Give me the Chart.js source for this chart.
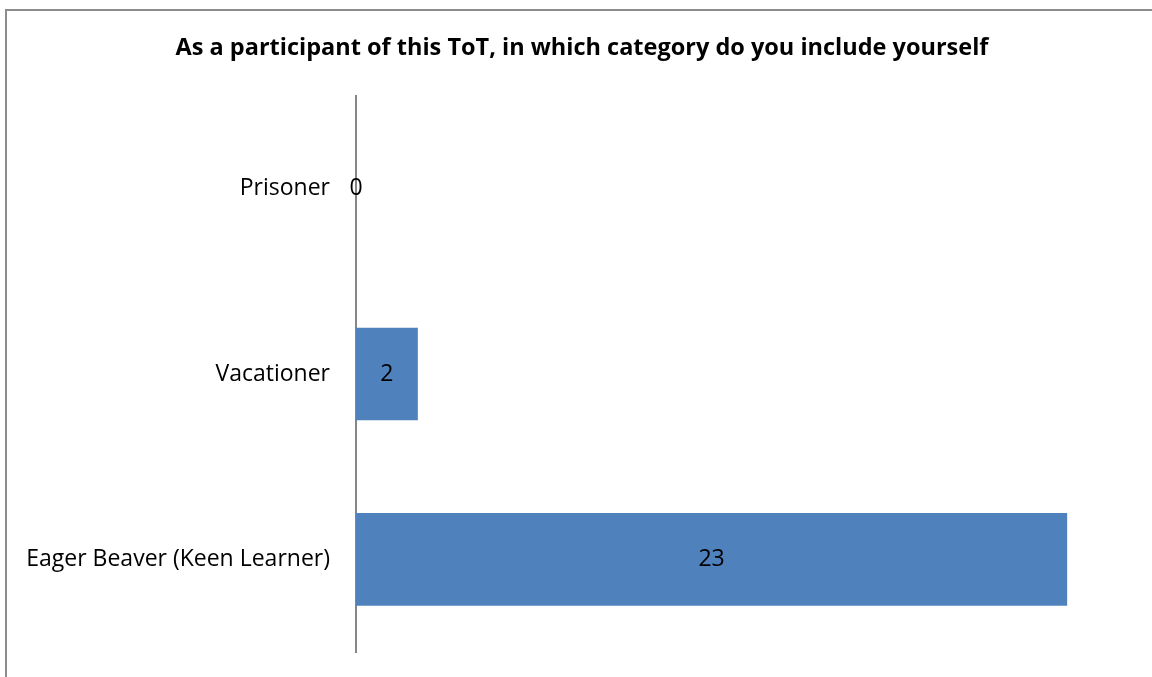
<!DOCTYPE html>
<html>
<head>
<meta charset="utf-8">
<script src="https://cdn.jsdelivr.net/npm/chart.js@4"></script>
<style>
  html, body { margin: 0; padding: 0; background: #fff; overflow: hidden; }
  #frame { position: absolute; left: 5px; top: 9px; width: 1200px; height: 720px; border: 2px solid #8c8c8c; }
  #wrap { position: absolute; left: 0; top: 0; width: 1152px; height: 677px; }
</style>
</head>
<body>
<div id="frame"></div>
<div id="wrap"><canvas id="chart"></canvas></div>
<script>
const categories = ["Prisoner", "Vacationer", "Eager Beaver (Keen Learner)"];
const counts = [0, 2, 23];
const chartTitle = "As a participant of this ToT, in which category do you include yourself";

// value labels in the middle of each bar, plus the title centred on the frame
const barLabels = {
  id: "barLabels",
  afterDatasetsDraw(chart) {
    const ctx = chart.ctx;
    const meta = chart.getDatasetMeta(0);
    ctx.save();
    ctx.fillStyle = "#000";
    ctx.textAlign = "center";
    ctx.textBaseline = "middle";
    ctx.font = "bold 23.5px 'Open Sans'";
    ctx.fillText(chartTitle, 582, 48);
    ctx.font = "23px 'Open Sans'";
    meta.data.forEach((bar, i) => {
      const x = (bar.x + bar.base) / 2;
      ctx.fillText(String(counts[i]), x, bar.y);
    });
    ctx.restore();
  }
};

new Chart(document.getElementById("chart"), {
  type: "bar",
  data: {
    labels: categories,
    datasets: [{
      data: counts,
      backgroundColor: "#4f81bd",
      categoryPercentage: 1,
      barPercentage: 0.5
    }]
  },
  options: {
    indexAxis: "y",
    responsive: true,
    maintainAspectRatio: false,
    animation: false,
    layout: { padding: { top: 96, bottom: 25, left: 0, right: 23 } },
    plugins: {
      legend: { display: false },
      tooltip: { enabled: false },
      title: { display: false }
    },
    scales: {
      x: { display: false, min: 0, max: 25 },
      y: {
        afterFit(scale) {
          scale.width = 356;
          scale.paddingTop = 0;
          scale.paddingBottom = 0;
        },
        grid: { display: false, drawTicks: false },
        border: { display: true, color: "#868686", width: 2 },
        ticks: {
          color: "#000",
          padding: 26,
          font: { family: "'Open Sans'", size: 23 }
        }
      }
    }
  },
  plugins: [barLabels]
});
</script>
</body>
</html>
